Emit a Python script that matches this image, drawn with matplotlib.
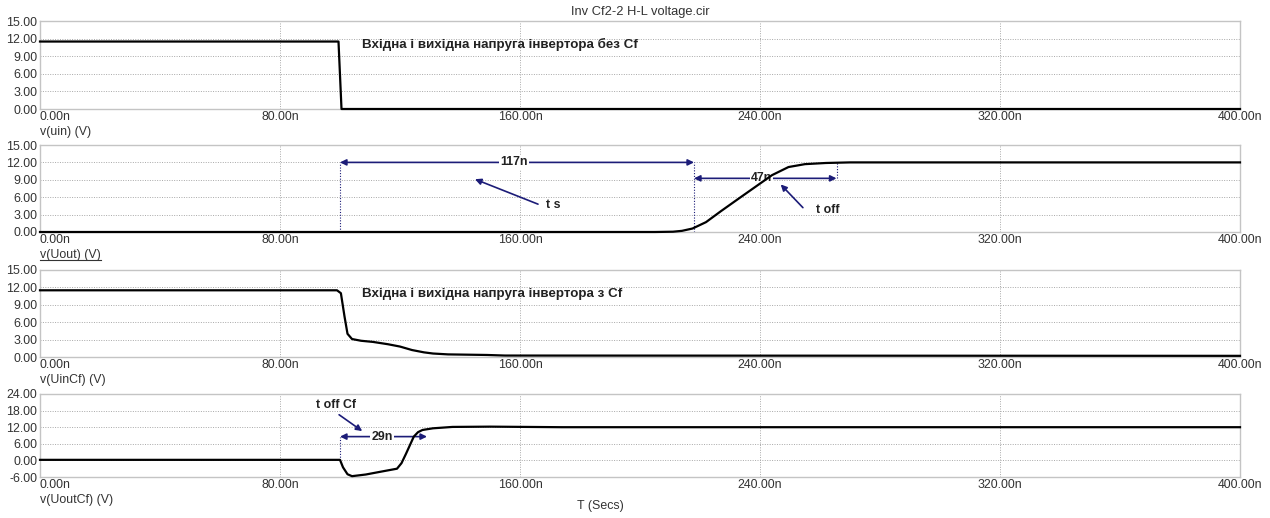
import matplotlib
matplotlib.use("Agg")
import matplotlib.pyplot as plt
from matplotlib.lines import Line2D

plt.rcParams['font.family'] = ['Liberation Sans', 'DejaVu Sans']

# ---------------- data (time in ns, voltage in V) ----------------
t_uin = [0, 99.5, 100.5, 400]
v_uin = [11.5, 11.5, 0, 0]

t_uout = [0, 205, 211, 214, 217.5, 222, 227, 233, 238.5, 244, 249.5, 255, 262, 270, 400]
v_uout = [0, 0, 0.05, 0.2, 0.6, 1.7, 3.6, 5.8, 7.8, 9.8, 11.2, 11.7, 11.9, 12.0, 12.0]

t_uincf = [0, 99, 100.3, 101.5, 102.5, 104, 107, 111, 116, 120, 124, 128, 131, 136, 149, 155, 400]
v_uincf = [11.5, 11.5, 11.0, 7.0, 4.0, 3.1, 2.8, 2.6, 2.2, 1.8, 1.2, 0.8, 0.6, 0.45, 0.35, 0.25, 0.2]

t_uoutcf = [0, 100, 101, 102.5, 104, 108.6, 114, 119, 120.5, 122, 124.6, 126, 127.5, 131, 137.5, 150, 174, 400]
v_uoutcf = [0.2, 0.2, -2.5, -5.0, -5.7, -5.1, -4.0, -3.0, -1.0, 2.4, 8.6, 10.2, 11.0, 11.6, 12.1, 12.2, 12.0, 12.0]

x_ticks = [0, 80, 160, 240, 320, 400]
x_tick_labels = ["0.00n", "80.00n", "160.00n", "240.00n", "320.00n", "400.00n"]
y_ticks_a = [0, 3, 6, 9, 12, 15]
y_ticks_b = [-6, 0, 6, 12, 18, 24]

trace_labels = ["v(uin) (V)", "v(Uout) (V)", "v(UinCf) (V)", "v(UoutCf) (V)"]
title = "Inv Cf2-2 H-L voltage.cir"
xlabel = "T (Secs)"
note_without = "Вхідна і вихідна напруга інвертора без Cf"
note_with = "Вхідна і вихідна напруга інвертора з Cf"

# ts / toff measurement annotations
ts_start, ts_end, ts_level = 100, 218, 12
toff_start, toff_end, toff_level = 218, 265.5, 9.25
toffcf_start, toffcf_end, toffcf_level = 100, 129, 8.6

# ---------------- figure ----------------
W, H = 1270, 518
fig = plt.figure(figsize=(W / 100, H / 100), dpi=100)
fig.patch.set_facecolor('white')

def pax(top, bottom, left=40, right=1240):
    return fig.add_axes([left / W, (H - bottom) / H, (right - left) / W, (bottom - top) / H])

axes = [pax(21, 109), pax(145, 232), pax(270, 357), pax(394, 477)]

frame_col = '#c4c4c4'
grid_col = '#a8a8a8'
txt_col = '#333333'
navy = '#1c1c78'
fs = 8.9

series = [(t_uin, v_uin), (t_uout, v_uout), (t_uincf, v_uincf), (t_uoutcf, v_uoutcf)]
for i, ax in enumerate(axes):
    t, v = series[i]
    ax.plot(t, v, color='black', lw=1.6, solid_joinstyle='round', zorder=6, clip_on=False)
    ax.set_xlim(0, 400)
    if i == 3:
        ax.set_ylim(-6, 24)
        ax.set_yticks(y_ticks_b)
        ax.set_yticklabels([f"{y:.2f}" for y in y_ticks_b])
    else:
        ax.set_ylim(0, 15)
        ax.set_yticks(y_ticks_a)
        ax.set_yticklabels([f"{y:.2f}" for y in y_ticks_a])
    ax.set_xticks(x_ticks)
    ax.set_xticklabels(x_tick_labels)
    ax.tick_params(length=0, labelsize=fs, colors=txt_col, pad=2)
    ax.tick_params(axis='x', pad=1.5)
    lbls = ax.get_xticklabels()
    lbls[0].set_ha('left')
    ax.grid(True, color=grid_col, linestyle=(0, (1, 1.5)), lw=0.7)
    for s in ax.spines.values():
        s.set_color(frame_col)
        s.set_linewidth(1.0)
    ax.set_facecolor('white')
    ax.annotate(trace_labels[i], xy=(0, 0), xycoords='axes fraction',
                xytext=(0, -12), textcoords='offset points',
                ha='left', va='top', fontsize=fs, color=txt_col)

fig.text(640 / W, 1 - 12 / H, title, ha='center', va='center', fontsize=9.3, color=txt_col)
fig.text(600 / W, 1 - 506 / H, xlabel, ha='center', va='center', fontsize=fs, color=txt_col)

# notes
axes[0].text(107.5, 11.0, note_without, ha='left', va='center', fontsize=9.6,
             fontweight='bold', color='#222222', zorder=5)
axes[2].text(107.5, 10.9, note_with, ha='left', va='center', fontsize=9.6,
             fontweight='bold', color='#222222', zorder=5)

# ---------- measurement annotations ----------
def dbl_arrow(ax, x0, x1, y, label, lx):
    ax.annotate('', xy=(x0, y), xytext=(x1, y),
                arrowprops=dict(arrowstyle='<|-|>', color=navy, lw=1.2,
                                mutation_scale=9, shrinkA=0, shrinkB=0), zorder=4)
    ax.text(lx, y, label, ha='center', va='center', fontsize=fs, fontweight='bold',
            color='#222222', zorder=5,
            bbox=dict(facecolor='white', edgecolor='none', pad=0.8))

def sgl_arrow(ax, tail, head):
    ax.annotate('', xy=head, xytext=tail,
                arrowprops=dict(arrowstyle='-|>', color=navy, lw=1.2,
                                mutation_scale=9, shrinkA=0, shrinkB=0), zorder=4)

ax2 = axes[1]
ax2.plot([ts_start, ts_start], [0, ts_level], color=navy, ls=(0, (1, 1.5)), lw=0.8, zorder=2)
ax2.plot([ts_end, ts_end], [0, ts_level], color=navy, ls=(0, (1, 1.5)), lw=0.8, zorder=2)
ax2.plot([toff_end, toff_end], [toff_level, ts_level], color=navy, ls=(0, (1, 1.5)), lw=0.8, zorder=2)
dbl_arrow(ax2, ts_start, ts_end, ts_level, "117n", 158)
dbl_arrow(ax2, toff_start, toff_end, toff_level, "47n", 240.5)
sgl_arrow(ax2, (166, 4.8), (145, 9.1))
ax2.text(168.5, 4.6, "t s", ha='left', va='center', fontsize=fs, fontweight='bold', color='#222222')
sgl_arrow(ax2, (254.3, 4.2), (246.9, 8.2))
ax2.text(258.6, 3.75, "t off", ha='left', va='center', fontsize=fs, fontweight='bold', color='#222222')

ax4 = axes[3]
ax4.plot([toffcf_start, toffcf_start], [0.2, toffcf_level], color=navy, ls=(0, (1, 1.5)), lw=0.8, zorder=2)
dbl_arrow(ax4, toffcf_start, toffcf_end, toffcf_level, "29n", 114)
sgl_arrow(ax4, (99.7, 16.5), (107.4, 10.6))
ax4.text(98.6, 20.2, "t off Cf", ha='center', va='center', fontsize=fs, fontweight='bold', color='#222222')

# underline the selected trace label (v(Uout))
fig.canvas.draw()
renderer = fig.canvas.get_renderer()
for child in axes[1].get_children():
    if hasattr(child, 'get_text') and child.get_text() == trace_labels[1]:
        bb = child.get_window_extent(renderer)
        yline = bb.y0 + 0.5
        fig.add_artist(Line2D([bb.x0 / W, bb.x1 / W], [yline / H, yline / H],
                              color=txt_col, lw=0.8, transform=fig.transFigure))

fig.savefig('out.png', dpi=100, facecolor='white')
